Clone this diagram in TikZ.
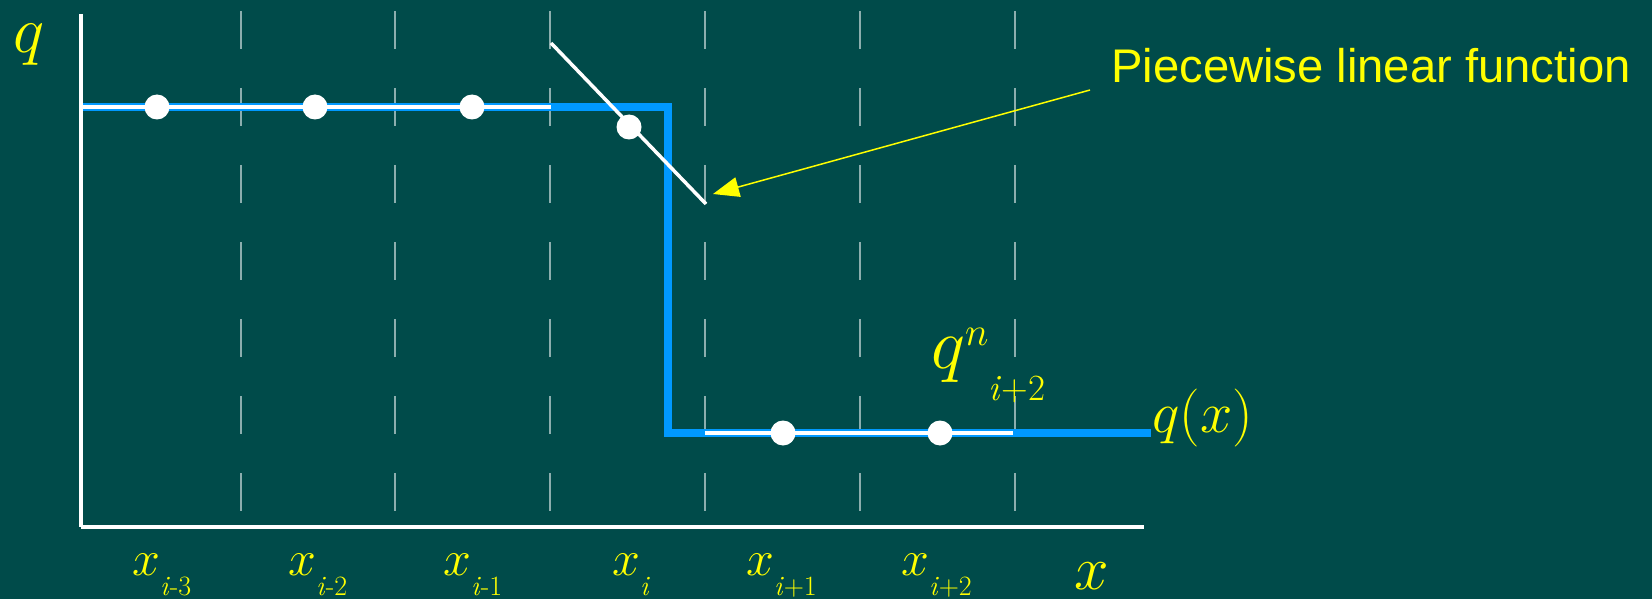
\RequirePackage{fix-cm}
\documentclass[tikz,border=0pt]{standalone}
\usepackage{fontspec}
\newfontfamily\labelfont{Liberation Sans}
\usetikzlibrary{arrows.meta}
\definecolor{bgteal}{HTML}{004B4A}
\definecolor{lineblue}{HTML}{0099FF}
\definecolor{labyellow}{HTML}{FFFF00}
\newcommand{\xsub}[1]{$x$\raisebox{-20pt}{\fontsize{28}{28}\selectfont #1}}

\begin{document}
\begin{tikzpicture}[x=1pt,y=-1pt,
  gridline/.style={white!55!bgteal, line width=1.3pt, dash pattern=on 38pt off 39pt},
  blueline/.style={lineblue, line width=8pt, line join=miter},
  whiteline/.style={white, line width=3.5pt},
  axisline/.style={white, line width=4pt},
  dot/.style={circle, fill=white, minimum size=25pt, inner sep=0pt},
  mathlab/.style={text=labyellow, inner sep=0pt, anchor=base west},
  pointer/.style={labyellow, line width=1.5pt, -{Triangle[length=26pt,width=20pt]}}]
  \useasboundingbox (0,0) rectangle (1652,599);
  \fill[bgteal] (0,0) rectangle (1652,599);
  % cell boundaries
  \foreach \gx in {241,395,550,705,860,1015}
    \draw[gridline] (\gx,11) -- (\gx,511);
  % exact solution and cell averages
  \draw[blueline] (83,107) -- (668,107) -- (668,433) -- (1151,433);
  \draw[whiteline] (83,107) -- (551,107);
  \draw[whiteline] (705,433) -- (1013,433);
  \coordinate (slopetop) at (551,43);
  \coordinate (slopebot) at (706,204);
  \draw[whiteline] (slopetop) -- (slopebot);
  % axes
  \coordinate (origin) at (81,527);
  \draw[axisline] (81,14) -- (origin);
  \draw[axisline] (origin) -- (1144,527);
  \foreach \px/\py [count=\k] in {157/107,315/107,472/107,629/127,783/433,940/433}
    \node[dot] (d\k) at (\px,\py) {};
  % labels
  \node[mathlab, font=\fontsize{66}{66}\selectfont] (qaxis) at (13,53) {$q$};
  \node[mathlab, font=\fontsize{62}{62}\selectfont] (xaxis) at (1074,589) {$x$};
  \node[mathlab, font=\fontsize{58}{58}\selectfont] (qfun) at (1152,432) {$q(x)$};
  \node[mathlab, font=\fontsize{72}{72}\selectfont] (qval) at (931,368)
    {$q$\raisebox{23pt}{\fontsize{40}{40}\selectfont$n$}\raisebox{-32pt}{\fontsize{37}{37}\selectfont\textit{i}+2}};
  \foreach \lx/\sub [count=\k] in {132/\textit{i}-3,288/\textit{i}-2,443/\textit{i}-1,612/\textit{i},746/\textit{i}+1,901/\textit{i}+2}
    \node[mathlab, font=\fontsize{50}{50}\selectfont] (xl\k) at (\lx,575) {\xsub{\sub}};
  \node[mathlab, font=\labelfont\fontsize{47.2}{50}\selectfont] (plf) at (1111,83) {Piecewise linear function};
  \coordinate (arrowtail) at (1090,90);
  \coordinate (arrowtip) at (713,194);
  \draw[pointer] (arrowtail) -- (arrowtip);
\end{tikzpicture}
\end{document}
